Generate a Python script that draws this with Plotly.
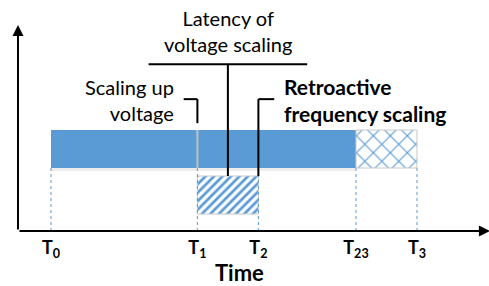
import plotly.graph_objects as go

# ---- data ----
tick_names = ["0", "1", "2", "23", "3"]
times = [0.0, 4.8, 6.8, 10.0, 12.0]          # T0, T1, T2, T23, T3
level_high = 2.158                            # upper bar (voltage/frequency high)
level_low = 0.947                             # lower bar
bar_h = 1.0
x_title = "Time"

# segments: (start index, end index, level, style)
seg_start = [0, 1, 3, 1]
seg_end = [1, 3, 4, 2]
seg_level = ["high", "high", "high", "low"]
seg_style = ["solid", "solid", "cross", "stripe"]

BLUE = "#5B9BD5"
FONT = "Lato"

fig = go.Figure()
lv = {"high": level_high, "low": level_low}

high_bottom = level_high - bar_h / 2
high_top = level_high + bar_h / 2
low_top = level_low + bar_h / 2

shapes = []
# soft shadow below the solid upper bar
shapes.append(dict(type="rect", xref="x", yref="y", x0=times[0], x1=times[3],
                   y0=high_bottom - 0.08, y1=high_bottom, layer="below",
                   fillcolor="rgba(0,0,0,0.07)", line=dict(width=0)))

for s, e, l, st in zip(seg_start, seg_end, seg_level, seg_style):
    base = times[s]
    dur = times[e] - times[s]
    if st == "solid":
        marker = dict(color=BLUE, line=dict(width=0))
    elif st == "cross":
        marker = dict(color=BLUE, line=dict(color="#C8C8C8", width=1),
                      pattern=dict(shape="x", fillmode="replace", bgcolor="white",
                                   fgcolor=BLUE, size=12, solidity=0.18))
    else:
        marker = dict(color=BLUE, line=dict(color="#C8C8C8", width=1),
                      pattern=dict(shape="/", fillmode="replace", bgcolor="white",
                                   fgcolor=BLUE, size=6, solidity=0.45))
    fig.add_trace(go.Bar(orientation="h", y=[lv[l]], x=[dur], base=[base],
                         width=bar_h, marker=marker, hoverinfo="skip"))

# dotted guides
for t in times:
    shapes.append(dict(type="line", xref="x", yref="y", x0=t, x1=t, y0=0, y1=high_bottom,
                       line=dict(color=BLUE, width=1, dash="dot")))
# separator inside upper bar at T1
shapes.append(dict(type="line", xref="x", yref="y", x0=times[1], x1=times[1],
                   y0=high_bottom, y1=high_top, line=dict(color="#C0C0C0", width=2)))

# leader lines
mid12 = (times[1] + times[2]) / 2
lat_y = 4.39
br_y = 3.47
line_k = dict(color="black", width=2)
shapes += [
    dict(type="line", xref="x", yref="y", x0=mid12 - 2.6, x1=mid12 + 2.6, y0=lat_y, y1=lat_y, line=line_k),
    dict(type="line", xref="x", yref="y", x0=mid12, x1=mid12, y0=low_top, y1=lat_y, line=line_k),
    dict(type="line", xref="x", yref="y", x0=times[1] - 0.45, x1=times[1], y0=br_y, y1=br_y, line=line_k),
    dict(type="line", xref="x", yref="y", x0=times[1], x1=times[1], y0=high_top + 0.18, y1=br_y, line=line_k),
    dict(type="line", xref="x", yref="y", x0=times[2], x1=times[2] + 0.52, y0=br_y, y1=br_y, line=line_k),
    dict(type="line", xref="x", yref="y", x0=times[2], x1=times[2], y0=low_top, y1=br_y, line=line_k),
]

x_axis_pos = -1.082
annotations = [
    # y axis arrow
    dict(x=x_axis_pos, y=5.42, ax=x_axis_pos, ay=0, xref="x", yref="y", axref="x", ayref="y",
         text="", showarrow=True, arrowhead=2, arrowsize=1.1, arrowwidth=2, arrowcolor="black", standoff=0),
    # x axis arrow
    dict(x=14.39, y=0, ax=x_axis_pos, ay=0, xref="x", yref="y", axref="x", ayref="y",
         text="", showarrow=True, arrowhead=2, arrowsize=1.1, arrowwidth=2, arrowcolor="black", standoff=0),
    dict(x=mid12, y=5.26, xref="x", yref="y", text="Latency of<br>voltage scaling", showarrow=False,
         xanchor="center", yanchor="middle", align="center", font=dict(family=FONT, size=20, color="black")),
    dict(x=4.1, y=3.46, xref="x", yref="y", text="Scaling up<br>voltage", showarrow=False,
         xanchor="right", yanchor="middle", align="right", font=dict(family=FONT, size=20, color="black")),
    dict(x=7.57, y=3.45, xref="x", yref="y", text="<b>Retroactive<br>frequency scaling</b>", showarrow=False,
         xanchor="left", yanchor="middle", align="left", font=dict(family=FONT, size=21, color="black")),
    # axis title
    dict(x=0.49, y=-0.178, xref="paper", yref="paper", text=f"<b>{x_title}</b>", showarrow=False,
         xanchor="center", yanchor="middle", font=dict(family=FONT, size=22, color="black")),
]

fig.update_layout(
    width=489, height=286,
    margin=dict(l=0, r=0, t=0, b=55),
    paper_bgcolor="white", plot_bgcolor="white",
    showlegend=False, barmode="overlay",
    shapes=shapes, annotations=annotations,
    xaxis=dict(range=[-1.672, 14.361], showgrid=False, zeroline=False, showline=False,
               tickvals=times, ticktext=[f"<b>T<sub>{n}</sub></b>" for n in tick_names],
               ticks="", ticklabelstandoff=4, tickfont=dict(family=FONT, size=18, color="black")),
    yaxis=dict(range=[0, 6.079], visible=False),
)

fig.write_html("out.html", config={"displayModeBar": False},
               post_script="document.body.style.margin='0';document.body.style.overflow='hidden';")
